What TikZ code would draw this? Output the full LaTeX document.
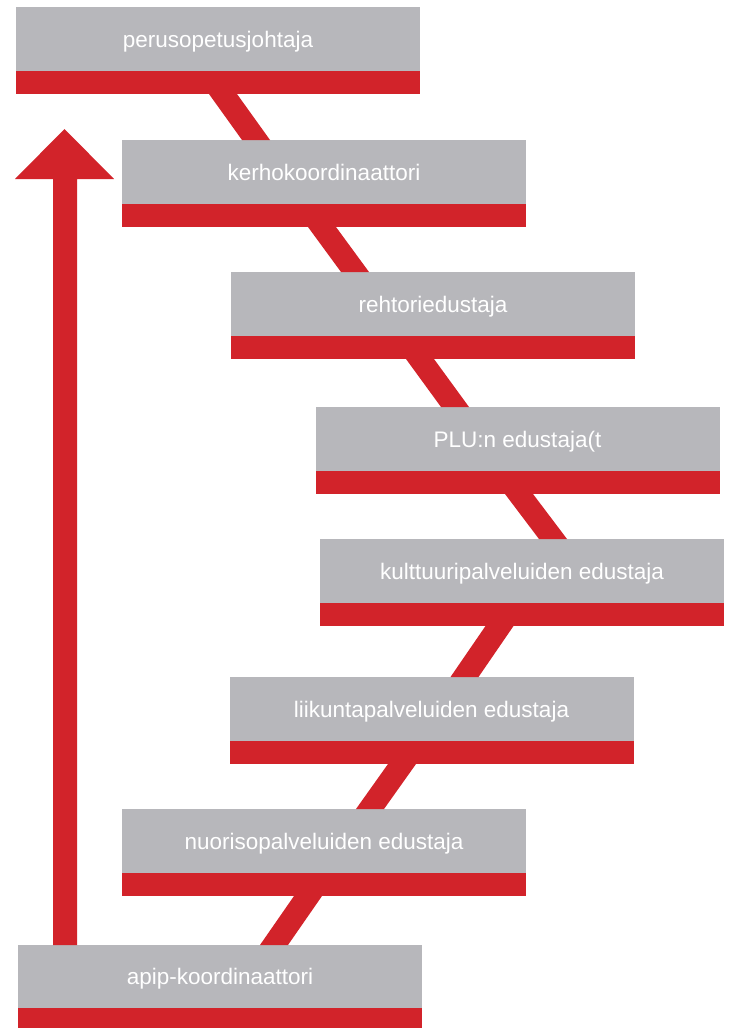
\documentclass[tikz,border=0pt]{standalone}
\usepackage{fontspec}
\setmainfont{Liberation Sans}
\usetikzlibrary{calc}
\definecolor{boxgrey}{HTML}{B7B7BB}
\definecolor{barred}{HTML}{D2232A}
\newcommand\linkbar[4]{%
  \fill[barred] ($(#1.south)+(#2-14,0)$) -- ($(#1.south)+(#2+14,0)$)
    -- ($(#3.north)+(#4+14,0)$) -- ($(#3.north)+(#4-14,0)$) -- cycle;}
\begin{document}
\begin{tikzpicture}[x=1pt,y=-1pt,
  rolebox/.style={fill=boxgrey, minimum width=404pt, minimum height=64pt,
    inner sep=0pt, outer sep=0pt, text=white, text height=16pt, text depth=0pt,
    font=\fontsize{22.5}{27}\selectfont},
  redbar/.style={fill=barred, minimum width=404pt, minimum height=23pt,
    inner sep=0pt, outer sep=0pt, anchor=north}]
\useasboundingbox (0,0) rectangle (731,1028);
\fill[white] (0,0) rectangle (731,1028);
% boxes
\node[rolebox] (n1) at (218,39) {perusopetusjohtaja};
\node[redbar] (b1) at (n1.south) {};
\node[rolebox] (n2) at (324,172) {kerhokoordinaattori};
\node[redbar] (b2) at (n2.south) {};
\node[rolebox] (n3) at (433,304) {rehtoriedustaja};
\node[redbar] (b3) at (n3.south) {};
\node[rolebox] (n4) at (517.5,439) {PLU:n edustaja(t};
\node[redbar] (b4) at (n4.south) {};
\node[rolebox] (n5) at (522,571) {kulttuuripalveluiden edustaja};
\node[redbar] (b5) at (n5.south) {};
\node[rolebox] (n6) at (431.5,709) {liikuntapalveluiden edustaja};
\node[redbar] (b6) at (n6.south) {};
\node[rolebox] (n7) at (324,841) {nuorisopalveluiden edustaja};
\node[redbar] (b7) at (n7.south) {};
\node[rolebox, minimum height=63pt] (n8) at (220,976.5) {apip-koordinaattori};
\node[redbar, minimum height=20pt] (b8) at (n8.south) {};
% connectors
\linkbar{b1}{5}{n2}{-68}
\linkbar{b2}{-2}{n3}{-78}
\linkbar{b3}{-13}{n4}{-62.5}
\linkbar{b4}{1.5}{n5}{31}
\linkbar{b5}{-22.5}{n6}{33}
\linkbar{b6}{-29.5}{n7}{46}
\linkbar{b7}{-16}{n8}{54}
% upward arrow
\coordinate (tip) at (64.5,129);
\fill[barred] ($(n8.north west)+(35,0)$) -- ++(0,-766) -- ++(-38,0) -- (tip)
  -- ++(49.5,50) -- ++(-37,0) -- ++(0,766) -- cycle;
\end{tikzpicture}
\end{document}
